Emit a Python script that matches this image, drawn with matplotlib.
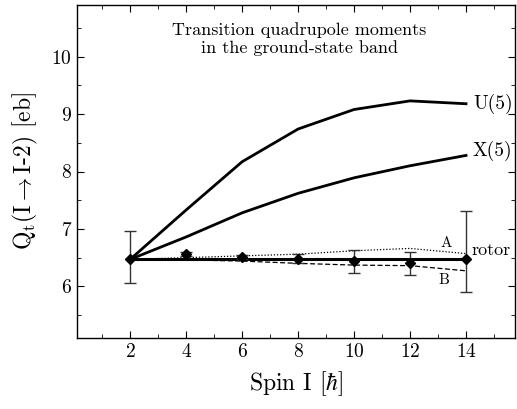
import matplotlib.pyplot as plt
import numpy as np

plt.rcParams["font.family"] = "serif"
plt.rcParams["font.serif"] = ["cmr10", "DejaVu Serif"]
plt.rcParams["mathtext.fontset"] = "cm"
plt.rcParams["axes.formatter.use_mathtext"] = True

# data
spin = [2, 4, 6, 8, 10, 12, 14]
q_u5 = [6.47, 7.33, 8.17, 8.74, 9.08, 9.23, 9.18]
q_x5 = [6.47, 6.86, 7.28, 7.62, 7.89, 8.10, 8.28]
q_rotor = [6.47, 6.47, 6.47, 6.47, 6.47, 6.47, 6.47]
q_a = [6.47, 6.50, 6.53, 6.56, 6.62, 6.66, 6.57]
q_b = [6.47, 6.46, 6.44, 6.40, 6.37, 6.36, 6.27]
q_exp = [6.47, 6.56, 6.51, 6.48, 6.44, 6.40, 6.47]
q_err_lo = [0.41, 0.04, 0.03, 0.07, 0.20, 0.21, 0.57]
q_err_hi = [0.50, 0.04, 0.03, 0.08, 0.20, 0.20, 0.85]

fig = plt.figure(figsize=[5.17, 4.09], dpi=100)
ax = fig.add_axes((77 / 517, 71 / 409, 438 / 517, 333 / 409))

ax.plot(spin, q_u5, color="k", lw=2)
ax.plot(spin, q_x5, color="k", lw=2)
ax.plot(spin, q_rotor, color="k", lw=2.2)
ax.plot(spin, q_a, color="k", lw=0.9, ls=(0, (1, 1.5)))
ax.plot(spin, q_b, color="k", lw=0.9, ls=(0, (4, 2)))
ax.errorbar(spin, q_exp, yerr=[q_err_lo, q_err_hi], fmt="D", color="k",
            ecolor="#333333", elinewidth=1, capsize=4, capthick=1, ms=5)

# curve labels
ax.text(14.25, q_u5[-1], "U(5)", fontsize=14, va="center")
ax.text(14.25, q_x5[-1] + 0.08, "X(5)", fontsize=14, va="center")
ax.text(14.2, 6.5, "rotor", fontsize=13, va="bottom")
ax.text(13.1, 6.63, "A", fontsize=11, va="bottom")
ax.text(13.0, 6.1, "B", fontsize=11, va="center")
ax.text(8.05, 10.3, "Transition quadrupole moments\nin the ground-state band",
        fontsize=13, ha="center", va="center", linespacing=1.15)

ax.set_xlim(0.1, 15.75)
ax.set_ylim(5.1, 10.9)
ax.set_xticks([2, 4, 6, 8, 10, 12, 14])
ax.set_xticks(np.arange(1, 16, 2), minor=True)
ax.set_yticks([6, 7, 8, 9, 10])
ax.set_yticks(np.arange(5.5, 11, 1), minor=True)
ax.tick_params(which="both", direction="in", top=True, right=True, labelsize=14)
ax.tick_params(which="major", length=5)
ax.tick_params(which="minor", length=3)
for s in ax.spines.values():
    s.set_linewidth(1)

ax.set_xlabel(r"Spin I [$\hbar$]", fontsize=17, labelpad=6)
ax.set_ylabel(r"Q$_\mathrm{t}$(I$\rightarrow$I-2) [eb]", fontsize=17, labelpad=8)

fig.savefig("out.png", dpi=100)
